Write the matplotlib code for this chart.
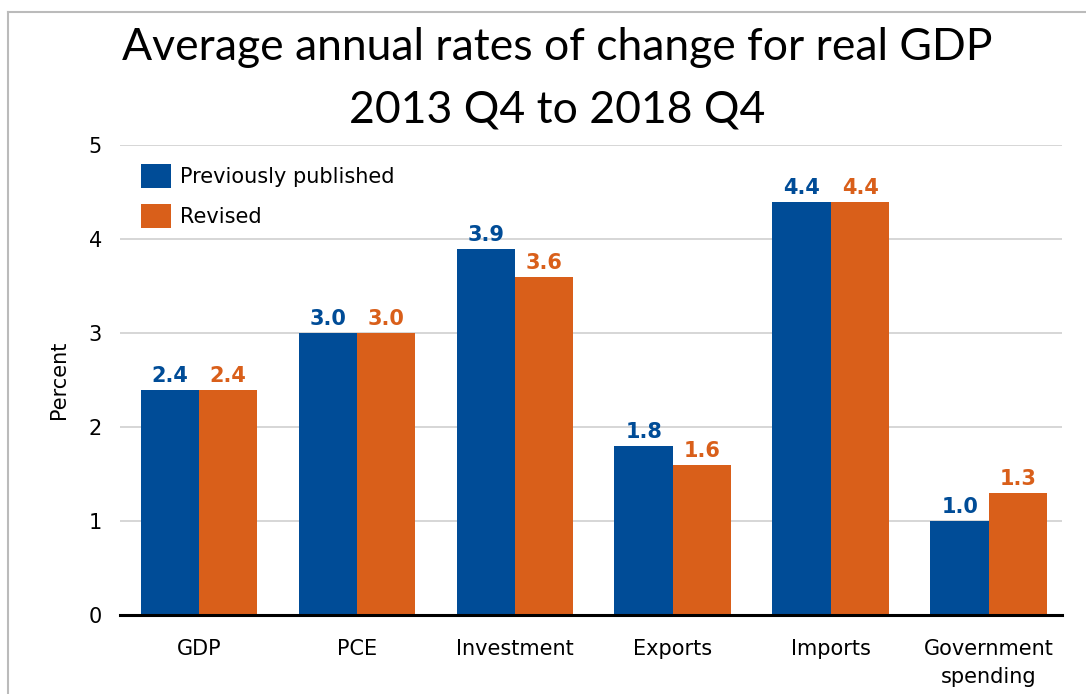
import numpy as np
import matplotlib.pyplot as plt
from matplotlib.lines import Line2D

categories = ["GDP", "PCE", "Investment", "Exports", "Imports", "Government\nspending"]
previously_published = [2.4, 3.0, 3.9, 1.8, 4.4, 1.0]
revised = [2.4, 3.0, 3.6, 1.6, 4.4, 1.3]
series_labels = ["Previously published", "Revised"]

blue = "#004C97"
orange = "#D95F1A"

plt.rcParams["font.family"] = ["DejaVu Sans"]

fig = plt.figure(figsize=(10.86, 6.94), dpi=100)
ax = fig.add_axes([0.1105, 0.1138, 0.867, 0.677])

x = np.arange(len(categories))
width = 0.37
b1 = ax.bar(x - width / 2, previously_published, width, color=blue, label=series_labels[0], zorder=3)
b2 = ax.bar(x + width / 2, revised, width, color=orange, label=series_labels[1], zorder=3)

for bars, vals, c in [(b1, previously_published, blue), (b2, revised, orange)]:
    for rect, v in zip(bars, vals):
        ax.text(rect.get_x() + rect.get_width() / 2, v + 0.04, f"{v:.1f}",
                ha="center", va="bottom", color=c, fontsize=15, fontweight="bold")

ax.set_ylim(0, 5)
ax.set_xlim(-0.5, 5.46)
ax.set_yticks([0, 1, 2, 3, 4, 5])
ax.set_xticks(x)
ax.set_xticklabels(categories, fontsize=15, linespacing=1.5)
ax.tick_params(axis="y", labelsize=15, length=0, pad=13)
ax.tick_params(axis="x", length=0, pad=17)
ax.grid(axis="y", color="#d0d0d0", linewidth=1.2, zorder=0)
for s in ["top", "right", "left"]:
    ax.spines[s].set_visible(False)
ax.spines["bottom"].set_linewidth(2.2)
ax.spines["bottom"].set_zorder(4)
ax.set_ylabel("Percent", fontsize=15, labelpad=14)

ax.legend(loc="upper left", frameon=False, fontsize=15, handlelength=1.4, handleheight=1.4,
          handletextpad=0.45, labelspacing=0.75, bbox_to_anchor=(0.005, 0.995), borderaxespad=0.4)

fig.text(0.513, 0.932, "Average annual rates of change for real GDP", ha="center", va="center",
         fontsize=32, family=["Lato", "DejaVu Sans"])
fig.text(0.513, 0.841, "2013 Q4 to 2018 Q4", ha="center", va="center",
         fontsize=32, family=["Lato", "DejaVu Sans"])

# frame lines at the top and left
fig.add_artist(Line2D([0.0075, 0.0075], [0.0, 0.983], color="#bbbbbb", linewidth=1.5, transform=fig.transFigure))
fig.add_artist(Line2D([0.0075, 1.0], [0.983, 0.983], color="#bbbbbb", linewidth=1.5, transform=fig.transFigure))

fig.savefig("out.png", dpi=100)
